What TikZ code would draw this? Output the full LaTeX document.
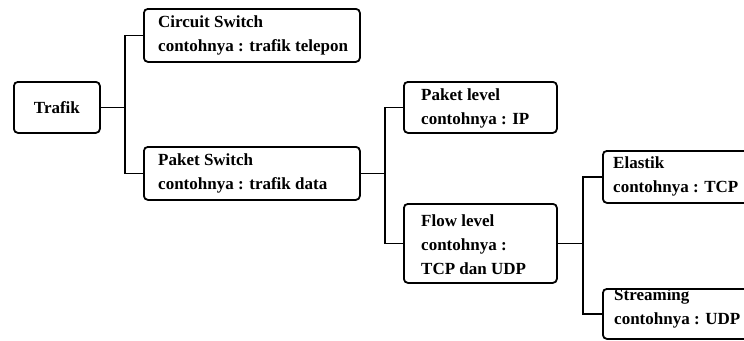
\documentclass[tikz,border=0pt]{standalone}
\usepackage{fontspec}
\setmainfont{Liberation Serif}
\begin{document}
\begin{tikzpicture}[x=1pt,y=-1pt,
  box/.style={draw=black, line width=1.8pt, rounded corners=4pt, fill=white,
    anchor=north west, inner sep=0pt},
  txt/.style={anchor=west, align=left, inner sep=0pt,
    font=\fontsize{17}{24}\selectfont\bfseries},
  link/.style={draw=black, line width=1.7pt}]
  % page area
  \fill[white] (0,0) rectangle (744,340);
  \clip (0,0) rectangle (744,340);
  \useasboundingbox (0,0) rectangle (744,340);

  % boxes
  \node[box, minimum width=86pt,  minimum height=51pt] (trafik)    at (13,81)   {};
  \node[box, minimum width=216pt, minimum height=53pt] (circuit)   at (143,8)   {};
  \node[box, minimum width=216pt, minimum height=53pt] (paketsw)   at (143,146) {};
  \node[box, minimum width=153pt, minimum height=51pt] (paketlvl)  at (403,81)  {};
  \node[box, minimum width=153pt, minimum height=79pt] (flow)      at (403,203) {};
  \node[box, minimum width=170pt, minimum height=52pt] (elastik)   at (602,150) {};
  \node[box, minimum width=170pt, minimum height=50pt] (streaming) at (602,288) {};

  % labels
  \node[txt, anchor=center] (ttrafik) at (trafik.center) {Trafik};
  \node[txt] (tcircuit)   at ([xshift=15pt]circuit.west)   {Circuit Switch\\contohnya : trafik telepon};
  \node[txt] (tpaketsw)   at ([xshift=15pt]paketsw.west)   {Paket Switch\\contohnya : trafik data};
  \node[txt] (tpaketlvl)  at ([xshift=18pt,yshift=-1pt]paketlvl.west)  {Paket level\\contohnya : IP};
  \node[txt] (tflow)      at ([xshift=18pt,yshift=-1pt]flow.west)      {Flow level\\contohnya :\\TCP dan UDP};
  \node[txt] (telastik)   at ([xshift=11pt]elastik.west)   {Elastik\\contohnya : TCP};
  \node[txt] (tstreaming) at ([xshift=12pt,yshift=5pt]streaming.west) {Streaming\\contohnya : UDP};

  % junction points, level with the parent box
  \coordinate (j1) at ([xshift=24pt]trafik.east);
  \coordinate (j2) at ([xshift=24pt]paketsw.east);
  \coordinate (j3) at ([xshift=25pt]flow.east);

  % connectors
  \draw[link] (trafik.east) -- (j1);
  \draw[link] (circuit.west) -| (j1) |- (paketsw.west);
  \draw[link] (paketsw.east) -- (j2);
  \draw[link] (paketlvl.west) -| (j2) |- (flow.west);
  \draw[link] (flow.east) -- (j3);
  \draw[link] (elastik.west) -| (j3) |- (streaming.west);
\end{tikzpicture}
\end{document}
